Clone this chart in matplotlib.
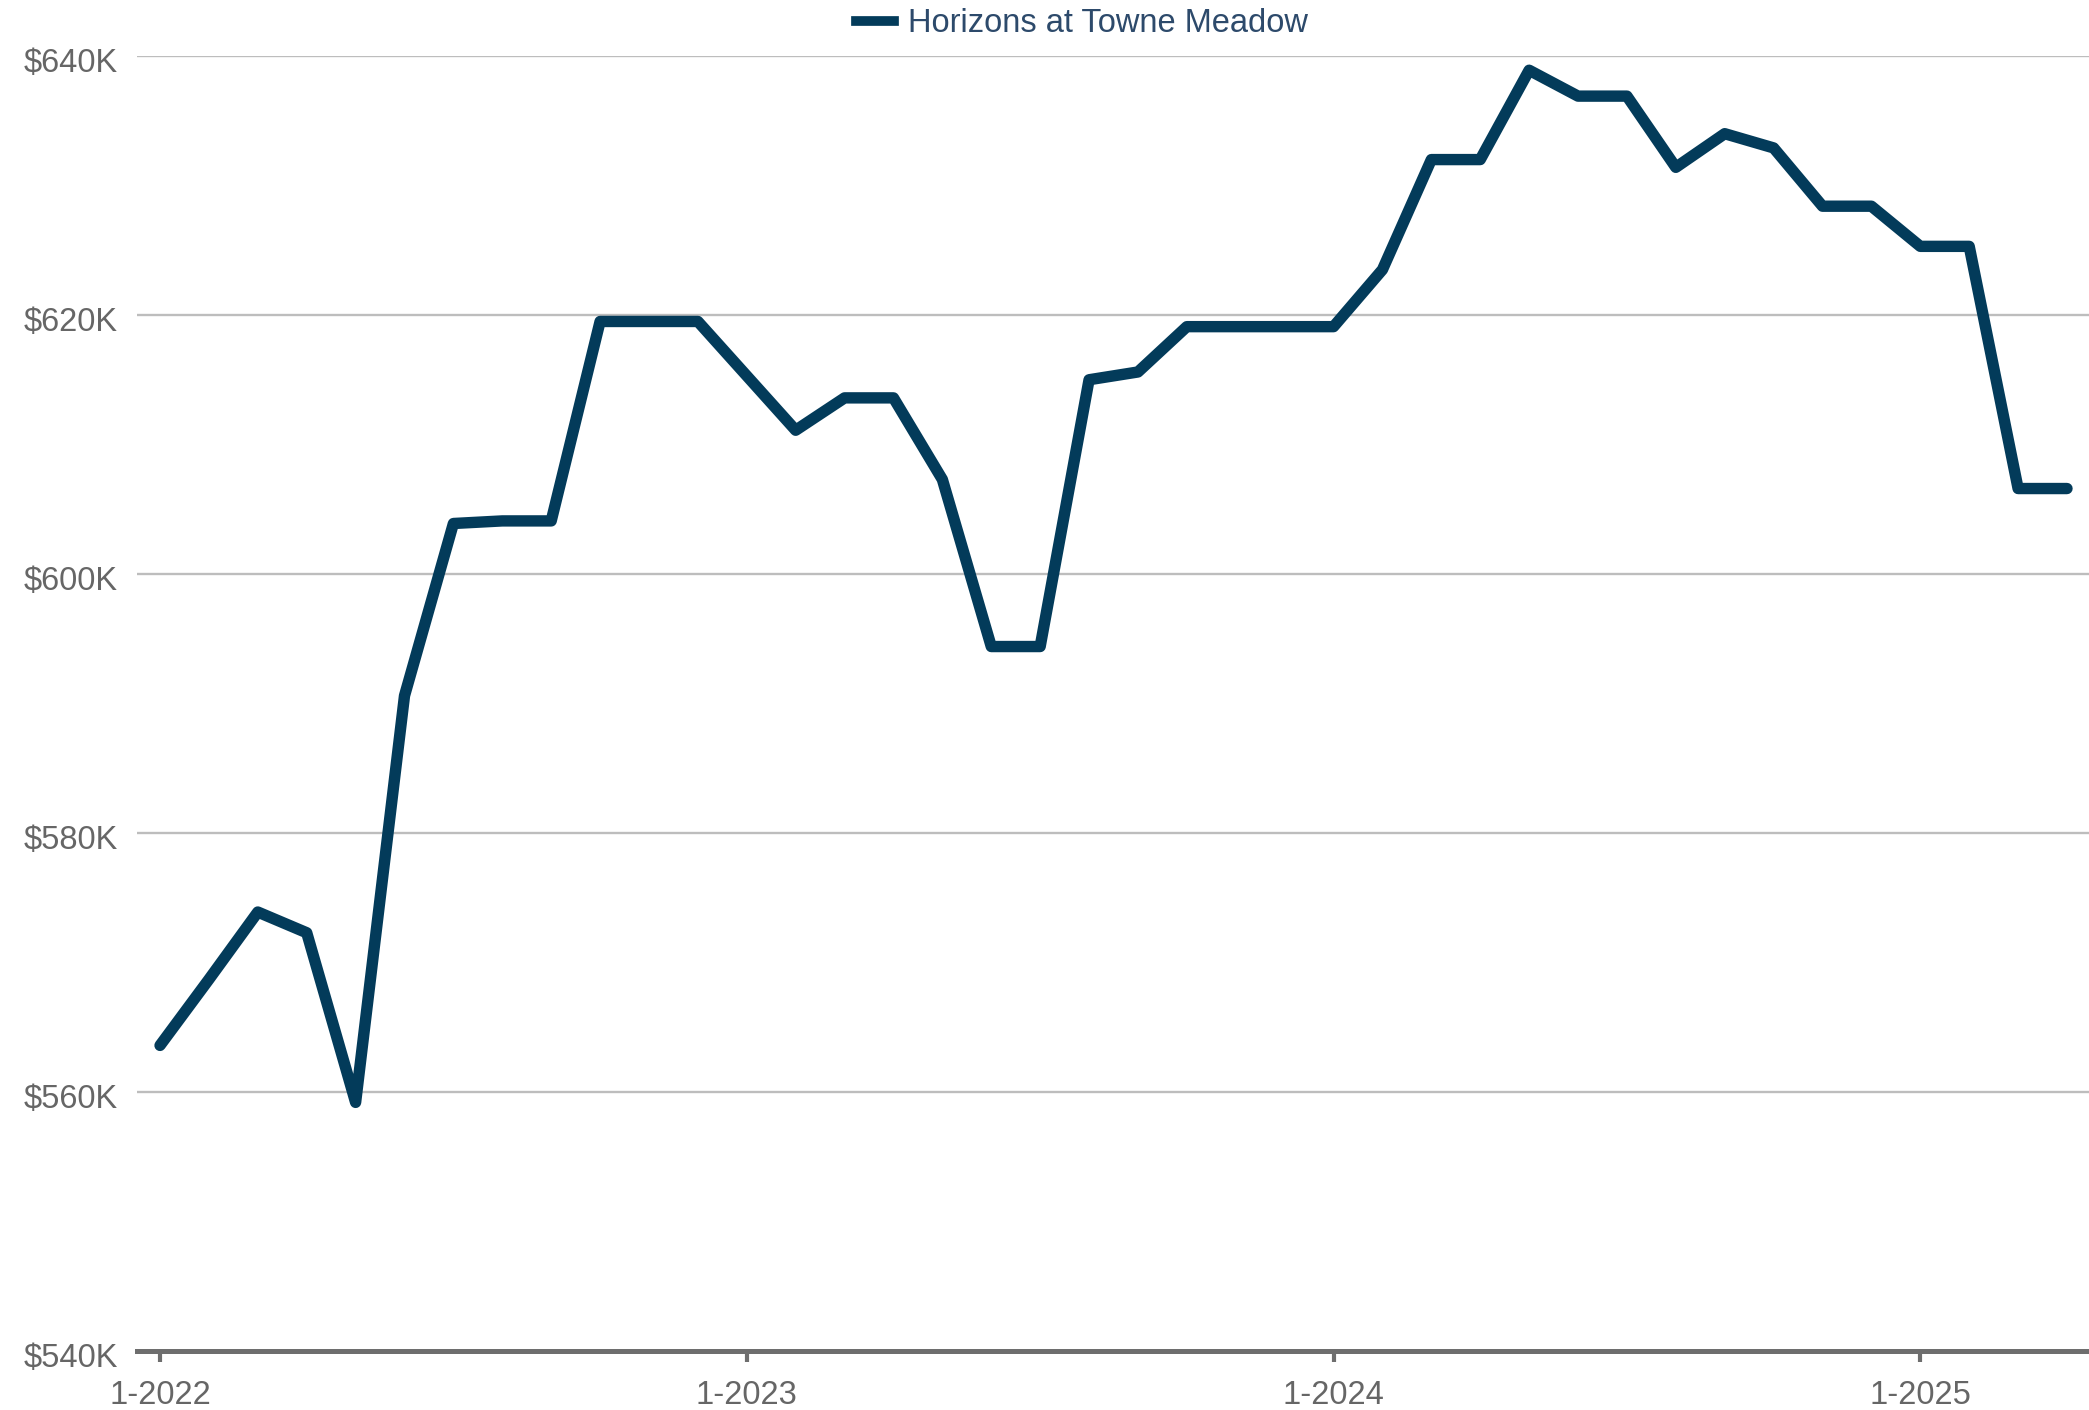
import matplotlib.pyplot as plt
import matplotlib.transforms as mtransforms
from matplotlib.lines import Line2D
from matplotlib.ticker import FuncFormatter

# monthly median price, Jan 2022 .. Apr 2025 (in $K)
months = [f"{m}-{y}" for y in (2022, 2023, 2024, 2025) for m in range(1, 13)][:40]
prices = [
    563.6, 568.7, 573.9, 572.3, 559.2, 590.6, 603.9, 604.1, 604.1, 619.5,
    619.5, 619.5, 615.3, 611.1, 613.6, 613.6, 607.3, 594.4, 594.4, 615.0,
    615.6, 619.1, 619.1, 619.1, 619.1, 623.5, 632.0, 632.0, 638.9, 636.9,
    636.9, 631.4, 634.0, 632.9, 628.4, 628.4, 625.3, 625.3, 606.6, 606.6,
]
series_name = "Horizons at Towne Meadow"
y_ticks = [540, 560, 580, 600, 620, 640]

line_color = "#033b5a"
text_gray = "#666666"

plt.rcParams['font.family'] = ['Liberation Sans', 'DejaVu Sans']

fig = plt.figure(figsize=(20.89, 14.10), dpi=100)
ax = fig.add_axes([0.0656, 0.0418, 0.9344, 0.9185])

x = list(range(len(prices)))
ax.plot(x, prices, color=line_color, linewidth=8.2,
        solid_joinstyle='round', solid_capstyle='round', zorder=3)

ax.set_xlim(-0.47, 39.45)
ax.set_ylim(540, 640)
ax.set_yticks(y_ticks)
ax.yaxis.set_major_formatter(FuncFormatter(lambda v, _: f"${v:.0f}K"))
ax.grid(axis='y', color='#bdbdbd', linewidth=1.7, zorder=1)

year_idx = [i for i, m in enumerate(months) if m.startswith("1-")]
ax.set_xticks(year_idx)
ax.set_xticklabels([months[i] for i in year_idx])

for side in ('top', 'right', 'left'):
    ax.spines[side].set_visible(False)
ax.spines['bottom'].set_color('#6e6e6e')
ax.spines['bottom'].set_linewidth(3.6)
ax.spines['bottom'].set_zorder(4)

ax.tick_params(axis='y', length=0, pad=14, labelsize=23.5, labelcolor=text_gray)
ax.tick_params(axis='x', length=8, width=3, color='#6e6e6e', pad=13,
               labelsize=23.5, labelcolor=text_gray)

# y labels sit a touch below their gridlines in the original
shift = mtransforms.ScaledTranslation(0, -4 / 100, fig.dpi_scale_trans)
for lbl in ax.get_yticklabels():
    lbl.set_transform(lbl.get_transform() + shift)

handle = Line2D([], [], color=line_color, linewidth=7)
fig.legend([handle], [series_name], loc='center', bbox_to_anchor=(0.518, 0.983),
           frameon=False, fontsize=23.5, handlelength=1.15, handletextpad=0.45,
           labelcolor='#2d4a6b', borderpad=0)

fig.savefig("out.png", dpi=100)
